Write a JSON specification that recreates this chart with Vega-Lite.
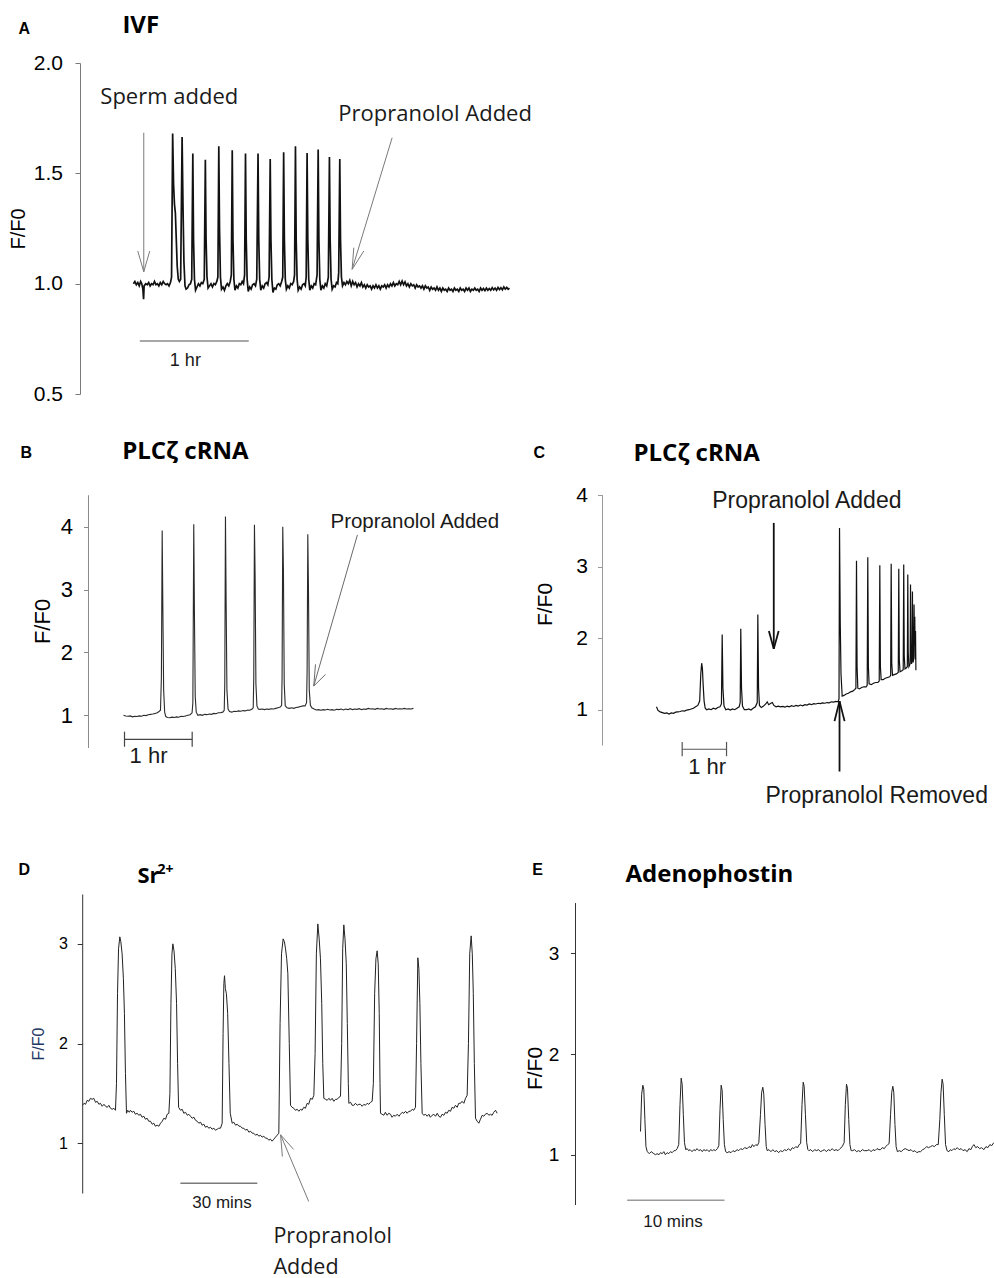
{
"$schema": "https://vega.github.io/schema/vega-lite/v6.json",
"autosize": {"type": "pad"},
"padding": {"left": 8, "top": 13, "right": 0, "bottom": 0},
"background": "white",
"config": {
  "view": {"stroke": null},
  "axis": {"labelFont": "Liberation Sans", "titleFont": "Liberation Sans", "titleFontWeight": "normal", "labelColor": "#000", "titleColor": "#000", "tickSize": 5, "grid": false, "labelOverlap": false, "domainWidth": 1, "tickWidth": 1}
},
"datasets": {
  "a": [
    {"t":0,"v":1.0},{"t":0.8,"v":1.01},{"t":1.6,"v":0.995},{"t":2.4,"v":1.005},{"t":3.2,"v":0.99},{"t":4.0,"v":1.01},{"t":4.6,"v":1.0},{"t":5.2,"v":0.975},{"t":5.6,"v":0.93},{"t":5.9,"v":0.99},
    {"t":6.8,"v":1.0},{"t":7.6,"v":0.995},{"t":8.4,"v":1.005},{"t":9.2,"v":0.99},{"t":10.0,"v":1.0},{"t":10.8,"v":0.995},{"t":11.6,"v":1.01},{"t":12.4,"v":0.995},{"t":13.2,"v":1.0},{"t":14.0,"v":0.99},
    {"t":14.8,"v":1.005},{"t":15.6,"v":0.995},{"t":16.4,"v":1.01},{"t":17.2,"v":1.0},{"t":18.0,"v":0.995},{"t":18.8,"v":1.0},{"t":19.6,"v":0.99},{"t":20.4,"v":1.005},{"t":21.0,"v":1.03},{"t":21.6,"v":1.68},
    {"t":22.1,"v":1.45},{"t":22.6,"v":1.36},{"t":23.1,"v":1.32},{"t":23.6,"v":1.2},{"t":24.1,"v":1.08},{"t":24.7,"v":1.02},{"t":25.3,"v":1.01},{"t":26.0,"v":1.02},{"t":26.8,"v":1.665},{"t":27.3,"v":1.35},
    {"t":27.8,"v":1.1},{"t":28.4,"v":0.99},{"t":29.0,"v":0.975},{"t":29.8,"v":0.98},{"t":30.6,"v":0.995},{"t":31.4,"v":1.0},{"t":32.1,"v":1.02},{"t":32.7,"v":1.59},{"t":33.1,"v":1.2},{"t":33.6,"v":1.02},
    {"t":34.2,"v":0.97},{"t":35.0,"v":0.985},{"t":35.8,"v":1.0},{"t":36.6,"v":0.99},{"t":37.4,"v":1.005},{"t":38.2,"v":1.0},{"t":39.0,"v":1.02},{"t":39.6,"v":1.562},{"t":40.0,"v":1.2},{"t":40.5,"v":1.03},
    {"t":41.1,"v":0.98},{"t":41.9,"v":0.99},{"t":42.7,"v":1.0},{"t":43.5,"v":0.985},{"t":44.3,"v":1.0},{"t":45.1,"v":0.995},{"t":45.9,"v":1.01},{"t":46.5,"v":1.03},{"t":47.0,"v":1.623},{"t":47.4,"v":1.25},
    {"t":47.9,"v":1.03},{"t":48.5,"v":0.975},{"t":49.3,"v":0.985},{"t":50.1,"v":0.97},{"t":50.9,"v":0.99},{"t":51.7,"v":1.0},{"t":52.5,"v":0.99},{"t":53.3,"v":1.01},{"t":53.9,"v":1.04},{"t":54.4,"v":1.605},
    {"t":54.8,"v":1.2},{"t":55.3,"v":1.02},{"t":55.9,"v":0.97},{"t":56.7,"v":0.99},{"t":57.5,"v":0.98},{"t":58.3,"v":1.0},{"t":59.1,"v":0.995},{"t":59.9,"v":1.01},{"t":60.6,"v":1.0},{"t":61.2,"v":1.04},
    {"t":61.7,"v":1.59},{"t":62.1,"v":1.2},{"t":62.6,"v":1.02},{"t":63.2,"v":0.965},{"t":64.0,"v":0.985},{"t":64.8,"v":0.975},{"t":65.6,"v":0.995},{"t":66.4,"v":1.0},{"t":67.2,"v":0.99},{"t":67.9,"v":1.02},
    {"t":68.6,"v":1.59},{"t":69.0,"v":1.2},{"t":69.5,"v":1.02},{"t":70.1,"v":0.97},{"t":70.9,"v":0.99},{"t":71.7,"v":0.98},{"t":72.5,"v":1.0},{"t":73.3,"v":1.005},{"t":74.0,"v":0.995},{"t":74.7,"v":1.03},
    {"t":75.3,"v":1.565},{"t":75.7,"v":1.2},{"t":76.2,"v":1.02},{"t":76.8,"v":0.96},{"t":77.6,"v":0.98},{"t":78.4,"v":0.975},{"t":79.2,"v":0.995},{"t":80.0,"v":1.0},{"t":80.8,"v":0.99},{"t":81.6,"v":1.01},
    {"t":82.2,"v":1.03},{"t":82.7,"v":1.595},{"t":83.1,"v":1.2},{"t":83.6,"v":1.02},{"t":84.2,"v":0.975},{"t":85.0,"v":0.99},{"t":85.8,"v":0.98},{"t":86.6,"v":1.0},{"t":87.4,"v":0.995},{"t":88.2,"v":1.01},
    {"t":88.7,"v":1.04},{"t":89.2,"v":1.623},{"t":89.6,"v":1.2},{"t":90.1,"v":1.02},{"t":90.7,"v":0.97},{"t":91.5,"v":0.985},{"t":92.3,"v":0.975},{"t":93.1,"v":0.995},{"t":93.9,"v":1.0},{"t":94.6,"v":0.99},
    {"t":95.1,"v":1.03},{"t":95.6,"v":1.592},{"t":96.0,"v":1.2},{"t":96.5,"v":1.02},{"t":97.1,"v":0.97},{"t":97.9,"v":0.99},{"t":98.7,"v":0.98},{"t":99.5,"v":1.0},{"t":100.3,"v":0.995},{"t":101.1,"v":1.04},
    {"t":101.7,"v":1.608},{"t":102.1,"v":1.2},{"t":102.6,"v":1.02},{"t":103.2,"v":0.97},{"t":104.0,"v":0.99},{"t":104.8,"v":0.98},{"t":105.6,"v":1.0},{"t":106.4,"v":0.99},{"t":107.3,"v":1.03},{"t":107.9,"v":1.574},
    {"t":108.3,"v":1.2},{"t":108.8,"v":1.02},{"t":109.4,"v":0.975},{"t":110.2,"v":0.99},{"t":111.0,"v":0.985},{"t":111.8,"v":1.005},{"t":112.5,"v":1.0},{"t":113.0,"v":1.05},{"t":113.6,"v":1.565},{"t":114.0,"v":1.2},
    {"t":114.5,"v":1.03},{"t":115.1,"v":0.99},{"t":115.9,"v":1.005},{"t":116.7,"v":0.995},{"t":117.5,"v":1.01},{"t":118.3,"v":1.0},{"t":119.1,"v":1.015},{"t":119.9,"v":0.99},{"t":120.7,"v":1.01},{"t":121.5,"v":0.995},
    {"t":122.3,"v":1.005},{"t":123.1,"v":0.985},{"t":123.9,"v":1.0},{"t":124.7,"v":0.99},{"t":125.5,"v":1.005},{"t":126.3,"v":0.985},{"t":127.1,"v":0.995},{"t":127.9,"v":0.98},{"t":128.7,"v":0.995},{"t":129.5,"v":0.985},
    {"t":130.3,"v":0.99},{"t":131.1,"v":0.975},{"t":131.9,"v":0.99},{"t":132.7,"v":0.98},{"t":133.5,"v":0.995},{"t":134.3,"v":0.98},{"t":135.1,"v":0.99},{"t":135.9,"v":0.975},{"t":136.7,"v":0.99},{"t":137.5,"v":0.985},
    {"t":138.3,"v":0.995},{"t":139.1,"v":0.98},{"t":139.9,"v":0.995},{"t":140.7,"v":0.985},{"t":141.5,"v":1.0},{"t":142.3,"v":0.99},{"t":143.1,"v":1.005},{"t":143.9,"v":0.99},{"t":144.7,"v":1.0},{"t":145.5,"v":0.995},
    {"t":146.3,"v":1.01},{"t":147.1,"v":0.995},{"t":147.9,"v":1.012},{"t":148.7,"v":0.995},{"t":149.5,"v":1.008},{"t":150.3,"v":0.99},{"t":151.1,"v":1.0},{"t":151.9,"v":0.985},{"t":152.7,"v":1.0},{"t":153.5,"v":0.99},
    {"t":154.3,"v":0.995},{"t":155.1,"v":0.98},{"t":155.9,"v":0.995},{"t":156.7,"v":0.985},{"t":157.5,"v":0.99},{"t":158.3,"v":0.98},{"t":159.1,"v":0.99},{"t":159.9,"v":0.975},{"t":160.7,"v":0.99},{"t":161.5,"v":0.98},
    {"t":162.3,"v":0.985},{"t":163.1,"v":0.97},{"t":163.9,"v":0.985},{"t":164.7,"v":0.975},{"t":165.5,"v":0.98},{"t":166.3,"v":0.97},{"t":167.1,"v":0.985},{"t":167.9,"v":0.97},{"t":168.7,"v":0.98},{"t":169.5,"v":0.965},
    {"t":170.3,"v":0.98},{"t":171.1,"v":0.97},{"t":171.9,"v":0.975},{"t":172.7,"v":0.965},{"t":173.5,"v":0.98},{"t":174.3,"v":0.97},{"t":175.1,"v":0.975},{"t":175.9,"v":0.965},{"t":176.7,"v":0.98},{"t":177.5,"v":0.97},
    {"t":178.3,"v":0.975},{"t":179.1,"v":0.965},{"t":179.9,"v":0.98},{"t":180.7,"v":0.97},{"t":181.5,"v":0.975},{"t":182.3,"v":0.965},{"t":183.1,"v":0.98},{"t":183.9,"v":0.97},{"t":184.7,"v":0.98},{"t":185.5,"v":0.965},
    {"t":186.3,"v":0.975},{"t":187.1,"v":0.97},{"t":187.9,"v":0.98},{"t":188.7,"v":0.97},{"t":189.5,"v":0.975},{"t":190.3,"v":0.965},{"t":191.1,"v":0.98},{"t":191.9,"v":0.97},{"t":192.7,"v":0.978},{"t":193.5,"v":0.968},
    {"t":194.3,"v":0.98},{"t":195.1,"v":0.97},{"t":195.9,"v":0.978},{"t":196.7,"v":0.97},{"t":197.5,"v":0.982},{"t":198.3,"v":0.972},{"t":199.1,"v":0.98},{"t":199.9,"v":0.97},{"t":200.7,"v":0.983},{"t":201.5,"v":0.973},
    {"t":202.3,"v":0.982},{"t":203.1,"v":0.972},{"t":203.9,"v":0.985},{"t":204.7,"v":0.975},{"t":205.5,"v":0.983},{"t":206.3,"v":0.975},{"t":207.0,"v":0.98}
  ],
  "b": [
    {"t":0,"v":1.0},{"t":2,"v":0.99},{"t":4,"v":0.985},{"t":6,"v":0.99},{"t":8,"v":0.975},{"t":10,"v":0.985},{"t":12,"v":0.98},{"t":14,"v":0.99},{"t":16,"v":0.985},{"t":18,"v":1.0},
    {"t":20,"v":0.995},{"t":22,"v":1.01},{"t":24,"v":1.015},{"t":26,"v":1.02},{"t":28,"v":1.03},{"t":30,"v":1.04},{"t":31.5,"v":1.06},{"t":32.8,"v":1.08},{"t":33.6,"v":1.6},{"t":34.3,"v":3.94},
    {"t":34.9,"v":2.7},{"t":35.6,"v":1.4},{"t":36.5,"v":1.05},{"t":37.5,"v":0.98},{"t":39,"v":0.965},{"t":41,"v":0.96},{"t":43,"v":0.97},{"t":45,"v":0.965},{"t":47,"v":0.975},{"t":49,"v":0.97},
    {"t":51,"v":0.985},{"t":53,"v":0.98},{"t":55,"v":0.99},{"t":57,"v":1.0},{"t":59,"v":1.01},{"t":60.8,"v":1.04},{"t":61.5,"v":1.2},{"t":62.3,"v":4.04},{"t":62.9,"v":2.6},{"t":63.6,"v":1.3},
    {"t":64.5,"v":1.05},{"t":66,"v":1.0},{"t":68,"v":1.01},{"t":70,"v":1.0},{"t":72,"v":1.015},{"t":74,"v":1.01},{"t":76,"v":1.02},{"t":78,"v":1.015},{"t":80,"v":1.03},{"t":82,"v":1.025},
    {"t":84,"v":1.04},{"t":86,"v":1.04},{"t":88,"v":1.05},{"t":89.3,"v":1.08},{"t":89.8,"v":1.5},{"t":90.4,"v":4.16},{"t":91.0,"v":2.8},{"t":91.7,"v":1.4},{"t":92.7,"v":1.1},{"t":94,"v":1.06},
    {"t":96,"v":1.05},{"t":98,"v":1.065},{"t":100,"v":1.06},{"t":102,"v":1.07},{"t":104,"v":1.065},{"t":106,"v":1.075},{"t":108,"v":1.07},{"t":110,"v":1.085},{"t":112,"v":1.08},{"t":114,"v":1.1},
    {"t":115.0,"v":1.12},{"t":115.5,"v":1.6},{"t":116.1,"v":4.03},{"t":116.7,"v":3.2},{"t":117.4,"v":1.5},{"t":118.3,"v":1.15},{"t":119.5,"v":1.1},{"t":121,"v":1.095},{"t":123,"v":1.1},{"t":125,"v":1.09},
    {"t":127,"v":1.1},{"t":129,"v":1.095},{"t":131,"v":1.105},{"t":133,"v":1.1},{"t":135,"v":1.11},{"t":137,"v":1.12},{"t":139,"v":1.13},{"t":140.2,"v":1.16},{"t":140.6,"v":1.6},{"t":141.2,"v":4.0},
    {"t":141.8,"v":3.3},{"t":142.5,"v":1.5},{"t":143.4,"v":1.15},{"t":145,"v":1.12},{"t":147,"v":1.11},{"t":149,"v":1.12},{"t":151,"v":1.11},{"t":153,"v":1.125},{"t":155,"v":1.13},{"t":157,"v":1.14},
    {"t":159,"v":1.15},{"t":161,"v":1.15},{"t":162.3,"v":1.2},{"t":162.8,"v":1.7},{"t":163.4,"v":3.88},{"t":164.0,"v":3.0},{"t":164.7,"v":1.4},{"t":165.7,"v":1.16},{"t":167,"v":1.12},{"t":169,"v":1.1},
    {"t":171,"v":1.085},{"t":173,"v":1.09},{"t":175,"v":1.08},{"t":177,"v":1.09},{"t":179,"v":1.085},{"t":181,"v":1.095},{"t":183,"v":1.085},{"t":185,"v":1.09},{"t":187,"v":1.08},{"t":189,"v":1.095},
    {"t":191,"v":1.09},{"t":193,"v":1.1},{"t":195,"v":1.085},{"t":197,"v":1.1},{"t":199,"v":1.09},{"t":201,"v":1.105},{"t":203,"v":1.09},{"t":205,"v":1.1},{"t":207,"v":1.095},{"t":209,"v":1.105},
    {"t":211,"v":1.09},{"t":213,"v":1.1},{"t":215,"v":1.095},{"t":217,"v":1.11},{"t":219,"v":1.1},{"t":221,"v":1.105},{"t":223,"v":1.095},{"t":225,"v":1.11},{"t":227,"v":1.1},{"t":229,"v":1.105},
    {"t":231,"v":1.095},{"t":233,"v":1.11},{"t":235,"v":1.1},{"t":237,"v":1.105},{"t":239,"v":1.095},{"t":241,"v":1.11},{"t":243,"v":1.1},{"t":245,"v":1.105},{"t":247,"v":1.1},{"t":249,"v":1.11},
    {"t":251,"v":1.1},{"t":253,"v":1.105},{"t":255,"v":1.1},{"t":257,"v":1.11}
  ],
  "c": [
    {"t":0,"v":1.04},{"t":2,"v":0.99},{"t":5,"v":0.97},{"t":8,"v":0.96},{"t":11,"v":0.95},{"t":14,"v":0.955},{"t":17,"v":0.94},{"t":20,"v":0.955},{"t":23,"v":0.95},{"t":26,"v":0.965},
    {"t":29,"v":0.97},{"t":32,"v":0.975},{"t":35,"v":0.985},{"t":38,"v":0.98},{"t":41,"v":0.995},{"t":44,"v":1.0},{"t":47,"v":1.01},{"t":50,"v":1.02},{"t":53,"v":1.04},{"t":56,"v":1.06},
    {"t":58.5,"v":1.12},{"t":60,"v":1.5},{"t":61.2,"v":1.65},{"t":62.2,"v":1.58},{"t":63.2,"v":1.35},{"t":64.5,"v":1.12},{"t":66,"v":1.02},{"t":68,"v":1.0},{"t":71,"v":1.01},{"t":74,"v":1.0},
    {"t":77,"v":1.02},{"t":80,"v":1.01},{"t":83,"v":1.03},{"t":86,"v":1.04},{"t":88,"v":1.08},{"t":89,"v":2.05},{"t":90,"v":1.3},{"t":91.5,"v":1.05},{"t":94,"v":1.0},{"t":97,"v":1.01},
    {"t":100,"v":0.995},{"t":103,"v":1.01},{"t":106,"v":1.0},{"t":109,"v":1.02},{"t":112,"v":1.04},{"t":113.4,"v":1.1},{"t":114.2,"v":2.13},{"t":115.2,"v":1.3},{"t":116.5,"v":1.05},{"t":119,"v":1.0},
    {"t":122,"v":1.0},{"t":125,"v":1.01},{"t":128,"v":0.995},{"t":131,"v":1.02},{"t":134,"v":1.04},{"t":136.5,"v":1.1},{"t":137.3,"v":2.33},{"t":138.3,"v":1.3},{"t":139.5,"v":1.06},{"t":142,"v":1.03},
    {"t":145,"v":1.05},{"t":148,"v":1.08},{"t":150,"v":1.11},{"t":152,"v":1.07},{"t":155,"v":1.09},{"t":157,"v":1.1},{"t":159,"v":1.06},{"t":162,"v":1.04},{"t":165,"v":1.05},{"t":168,"v":1.04},
    {"t":171,"v":1.045},{"t":174,"v":1.035},{"t":177,"v":1.05},{"t":180,"v":1.04},{"t":183,"v":1.055},{"t":186,"v":1.045},{"t":189,"v":1.06},{"t":192,"v":1.05},{"t":195,"v":1.065},{"t":198,"v":1.055},
    {"t":201,"v":1.07},{"t":204,"v":1.065},{"t":207,"v":1.08},{"t":210,"v":1.07},{"t":213,"v":1.085},{"t":216,"v":1.08},{"t":219,"v":1.09},{"t":222,"v":1.085},{"t":225,"v":1.095},{"t":228,"v":1.09},
    {"t":231,"v":1.1},{"t":234,"v":1.095},{"t":237,"v":1.11},{"t":240,"v":1.105},{"t":243,"v":1.115},{"t":246,"v":1.11},{"t":247.3,"v":1.15},{"t":248,"v":3.54},{"t":249,"v":2.2},{"t":250,"v":1.5},
    {"t":251.6,"v":1.19},{"t":254,"v":1.2},{"t":257,"v":1.22},{"t":260,"v":1.23},{"t":263,"v":1.25},{"t":266,"v":1.26},{"t":268.5,"v":1.28},{"t":270.2,"v":1.3},{"t":271,"v":3.08},{"t":271.8,"v":1.6},
    {"t":272.8,"v":1.3},{"t":275,"v":1.29},{"t":278,"v":1.31},{"t":281,"v":1.32},{"t":284,"v":1.32},{"t":285.5,"v":1.34},{"t":286.3,"v":3.13},{"t":287.1,"v":1.6},{"t":288.1,"v":1.36},{"t":291,"v":1.35},
    {"t":294,"v":1.37},{"t":297,"v":1.38},{"t":300,"v":1.38},{"t":301.8,"v":1.4},{"t":302.6,"v":3.02},{"t":303.4,"v":1.6},{"t":304.4,"v":1.42},{"t":307,"v":1.42},{"t":310,"v":1.44},{"t":313,"v":1.45},
    {"t":316,"v":1.46},{"t":317.3,"v":1.48},{"t":318,"v":3.04},{"t":318.8,"v":1.65},{"t":319.8,"v":1.48},{"t":322,"v":1.49},{"t":325,"v":1.5},{"t":327.6,"v":1.52},{"t":328.3,"v":2.97},{"t":329,"v":1.7},
    {"t":330,"v":1.53},{"t":332,"v":1.54},{"t":334.3,"v":1.56},{"t":335,"v":3.03},{"t":335.7,"v":1.75},{"t":336.7,"v":1.57},{"t":338,"v":1.58},{"t":339.9,"v":1.6},{"t":340.5,"v":2.89},{"t":341.1,"v":1.8},
    {"t":342,"v":1.6},{"t":343,"v":1.62},{"t":343.7,"v":1.65},{"t":344.2,"v":2.75},{"t":344.8,"v":1.85},{"t":345.6,"v":1.64},{"t":346.3,"v":1.68},{"t":346.8,"v":2.65},{"t":347.3,"v":1.9},{"t":347.9,"v":1.66},
    {"t":348.5,"v":1.75},{"t":349.0,"v":2.47},{"t":349.5,"v":1.9},{"t":350.0,"v":2.3},{"t":350.5,"v":1.7},{"t":351.0,"v":2.1},{"t":351.5,"v":1.55}
  ],
  "d": [
    {"t":0,"v":1.38},{"t":0.6,"v":1.4},{"t":1.2,"v":1.39},{"t":1.83,"v":1.43},{"t":2.5,"v":1.42},{"t":3.1,"v":1.45},{"t":3.78,"v":1.44},{"t":4.4,"v":1.45},{"t":5.1,"v":1.41},{"t":5.74,"v":1.42},
    {"t":6.4,"v":1.39},{"t":7.04,"v":1.4},{"t":7.7,"v":1.37},{"t":8.4,"v":1.39},{"t":9.0,"v":1.37},{"t":9.7,"v":1.36},{"t":10.3,"v":1.38},{"t":10.95,"v":1.35},{"t":11.6,"v":1.34},{"t":12.26,"v":1.35},
    {"t":12.9,"v":1.33},{"t":13.3,"v":1.6},{"t":13.7,"v":2.5},{"t":14.1,"v":2.95},{"t":14.6,"v":3.07},{"t":15.0,"v":3.02},{"t":15.5,"v":2.9},{"t":16.0,"v":2.65},{"t":16.4,"v":2.3},{"t":16.8,"v":1.7},
    {"t":17.21,"v":1.3},{"t":17.7,"v":1.33},{"t":18.3,"v":1.31},{"t":18.78,"v":1.33},{"t":19.4,"v":1.31},{"t":20.08,"v":1.32},{"t":20.7,"v":1.29},{"t":21.4,"v":1.3},{"t":22.0,"v":1.28},{"t":22.69,"v":1.29},
    {"t":23.3,"v":1.26},{"t":24.0,"v":1.27},{"t":24.6,"v":1.24},{"t":25.3,"v":1.25},{"t":25.9,"v":1.22},{"t":26.6,"v":1.22},{"t":27.26,"v":1.19},{"t":27.9,"v":1.2},{"t":28.5,"v":1.17},{"t":29.21,"v":1.18},
    {"t":29.9,"v":1.17},{"t":30.52,"v":1.2},{"t":31.2,"v":1.22},{"t":31.82,"v":1.25},{"t":32.5,"v":1.24},{"t":33.12,"v":1.29},{"t":33.78,"v":1.3},{"t":34.2,"v":1.5},{"t":34.6,"v":2.4},{"t":35.0,"v":2.9},
    {"t":35.35,"v":3.0},{"t":35.8,"v":2.93},{"t":36.3,"v":2.75},{"t":36.8,"v":2.4},{"t":37.2,"v":1.8},{"t":37.6,"v":1.36},{"t":38.34,"v":1.33},{"t":39.0,"v":1.34},{"t":39.65,"v":1.3},{"t":40.3,"v":1.31},
    {"t":41.0,"v":1.28},{"t":41.6,"v":1.29},{"t":42.25,"v":1.27},{"t":42.9,"v":1.25},{"t":43.6,"v":1.26},{"t":44.2,"v":1.23},{"t":44.86,"v":1.22},{"t":45.5,"v":1.2},{"t":46.2,"v":1.21},{"t":46.8,"v":1.18},
    {"t":47.47,"v":1.19},{"t":48.1,"v":1.16},{"t":48.8,"v":1.17},{"t":49.4,"v":1.15},{"t":50.08,"v":1.16},{"t":50.7,"v":1.14},{"t":51.4,"v":1.15},{"t":52.0,"v":1.13},{"t":52.69,"v":1.14},{"t":53.3,"v":1.15},
    {"t":53.99,"v":1.15},{"t":54.64,"v":1.2},{"t":55.0,"v":2.1},{"t":55.3,"v":2.6},{"t":55.56,"v":2.68},{"t":55.9,"v":2.55},{"t":56.3,"v":2.5},{"t":56.8,"v":2.3},{"t":57.3,"v":1.8},{"t":57.8,"v":1.3},
    {"t":58.56,"v":1.2},{"t":59.2,"v":1.21},{"t":59.9,"v":1.18},{"t":60.51,"v":1.19},{"t":61.2,"v":1.17},{"t":61.8,"v":1.17},{"t":62.5,"v":1.15},{"t":63.12,"v":1.15},{"t":63.8,"v":1.13},{"t":64.4,"v":1.14},
    {"t":65.1,"v":1.11},{"t":65.73,"v":1.12},{"t":66.4,"v":1.1},{"t":67.0,"v":1.1},{"t":67.7,"v":1.08},{"t":68.34,"v":1.09},{"t":69.0,"v":1.07},{"t":69.6,"v":1.08},{"t":70.3,"v":1.06},{"t":70.94,"v":1.07},
    {"t":71.6,"v":1.05},{"t":72.2,"v":1.05},{"t":72.9,"v":1.03},{"t":73.55,"v":1.04},{"t":74.2,"v":1.02},{"t":74.86,"v":1.04},{"t":75.5,"v":1.06},{"t":76.16,"v":1.08},{"t":76.81,"v":1.1},{"t":77.3,"v":2.2},
    {"t":77.86,"v":2.9},{"t":78.51,"v":3.05},{"t":79.0,"v":3.02},{"t":79.43,"v":2.95},{"t":79.9,"v":2.85},{"t":80.34,"v":2.7},{"t":80.9,"v":2.0},{"t":81.38,"v":1.38},{"t":82.0,"v":1.36},{"t":82.68,"v":1.35},
    {"t":83.3,"v":1.33},{"t":84.0,"v":1.34},{"t":84.64,"v":1.32},{"t":85.3,"v":1.34},{"t":85.9,"v":1.33},{"t":86.59,"v":1.36},{"t":87.2,"v":1.35},{"t":87.9,"v":1.4},{"t":88.5,"v":1.39},{"t":89.2,"v":1.45},
    {"t":89.9,"v":1.44},{"t":90.51,"v":1.48},{"t":91.0,"v":1.9},{"t":91.5,"v":2.9},{"t":92.07,"v":3.2},{"t":92.6,"v":3.05},{"t":93.1,"v":2.85},{"t":93.6,"v":2.4},{"t":94.0,"v":1.8},{"t":94.42,"v":1.45},
    {"t":95.1,"v":1.44},{"t":95.72,"v":1.43},{"t":96.4,"v":1.45},{"t":97.0,"v":1.43},{"t":97.68,"v":1.45},{"t":98.3,"v":1.42},{"t":99.0,"v":1.44},{"t":99.63,"v":1.44},{"t":100.3,"v":1.46},{"t":100.94,"v":1.47},
    {"t":101.4,"v":2.0},{"t":101.8,"v":2.95},{"t":102.24,"v":3.19},{"t":102.7,"v":3.05},{"t":103.2,"v":2.8},{"t":103.6,"v":2.2},{"t":104.0,"v":1.6},{"t":104.2,"v":1.4},{"t":104.9,"v":1.41},{"t":105.5,"v":1.38},
    {"t":106.16,"v":1.38},{"t":106.8,"v":1.4},{"t":107.5,"v":1.38},{"t":108.1,"v":1.39},{"t":108.76,"v":1.39},{"t":109.4,"v":1.37},{"t":110.1,"v":1.39},{"t":110.7,"v":1.38},{"t":111.37,"v":1.4},{"t":112.0,"v":1.39},
    {"t":112.7,"v":1.41},{"t":113.33,"v":1.42},{"t":113.8,"v":1.6},{"t":114.3,"v":2.5},{"t":114.8,"v":2.85},{"t":115.28,"v":2.93},{"t":115.7,"v":2.8},{"t":116.1,"v":2.3},{"t":116.4,"v":1.6},{"t":116.59,"v":1.3},
    {"t":117.2,"v":1.29},{"t":117.89,"v":1.28},{"t":118.5,"v":1.31},{"t":119.2,"v":1.28},{"t":119.8,"v":1.3},{"t":120.5,"v":1.29},{"t":121.1,"v":1.26},{"t":121.8,"v":1.28},{"t":122.4,"v":1.27},{"t":123.11,"v":1.29},
    {"t":123.8,"v":1.27},{"t":124.4,"v":1.29},{"t":125.1,"v":1.31},{"t":125.72,"v":1.3},{"t":126.4,"v":1.32},{"t":127.0,"v":1.3},{"t":127.7,"v":1.32},{"t":128.33,"v":1.32},{"t":129.0,"v":1.34},{"t":129.6,"v":1.33},
    {"t":130.28,"v":1.36},{"t":130.7,"v":2.0},{"t":131.2,"v":2.86},{"t":131.6,"v":2.75},{"t":132.0,"v":2.4},{"t":132.4,"v":1.8},{"t":132.89,"v":1.3},{"t":133.5,"v":1.28},{"t":134.2,"v":1.29},{"t":134.85,"v":1.27},
    {"t":135.5,"v":1.29},{"t":136.1,"v":1.26},{"t":136.8,"v":1.28},{"t":137.46,"v":1.29},{"t":138.1,"v":1.27},{"t":138.8,"v":1.3},{"t":139.4,"v":1.27},{"t":140.06,"v":1.26},{"t":140.7,"v":1.29},{"t":141.4,"v":1.28},
    {"t":142.0,"v":1.31},{"t":142.67,"v":1.3},{"t":143.3,"v":1.33},{"t":144.0,"v":1.32},{"t":144.6,"v":1.36},{"t":145.28,"v":1.35},{"t":145.9,"v":1.38},{"t":146.6,"v":1.36},{"t":147.2,"v":1.4},{"t":147.89,"v":1.4},
    {"t":148.5,"v":1.42},{"t":149.2,"v":1.4},{"t":149.84,"v":1.45},{"t":150.49,"v":1.48},{"t":151.0,"v":2.0},{"t":151.5,"v":2.9},{"t":152.06,"v":3.08},{"t":152.5,"v":2.9},{"t":152.9,"v":2.5},{"t":153.3,"v":1.8},
    {"t":153.76,"v":1.25},{"t":154.4,"v":1.22},{"t":155.06,"v":1.2},{"t":155.7,"v":1.24},{"t":156.36,"v":1.28},{"t":157.0,"v":1.27},{"t":157.6,"v":1.29},{"t":158.32,"v":1.3},{"t":159.0,"v":1.28},{"t":159.6,"v":1.29},
    {"t":160.27,"v":1.28},{"t":160.9,"v":1.31},{"t":161.58,"v":1.33},{"t":162.23,"v":1.3}
  ],
  "e": [
    {"t":0,"v":1.23},{"t":0.12,"v":1.6},{"t":0.24,"v":1.69},{"t":0.34,"v":1.65},{"t":0.45,"v":1.35},{"t":0.56,"v":1.08},{"t":0.7,"v":1.03},{"t":0.9,"v":1.01},{"t":1.1,"v":1.03},{"t":1.37,"v":1.01},
    {"t":1.55,"v":1.0},{"t":1.71,"v":1.01},{"t":1.9,"v":1.0},{"t":2.05,"v":1.02},{"t":2.23,"v":1.01},{"t":2.4,"v":1.03},{"t":2.55,"v":1.0},{"t":2.74,"v":1.02},{"t":2.9,"v":1.01},{"t":3.08,"v":1.03},
    {"t":3.25,"v":1.02},{"t":3.45,"v":1.04},{"t":3.6,"v":1.04},{"t":3.77,"v":1.06},{"t":3.93,"v":1.1},{"t":4.06,"v":1.5},{"t":4.18,"v":1.76},{"t":4.28,"v":1.7},{"t":4.4,"v":1.4},{"t":4.52,"v":1.12},
    {"t":4.65,"v":1.05},{"t":4.8,"v":1.06},{"t":4.95,"v":1.04},{"t":5.1,"v":1.05},{"t":5.3,"v":1.03},{"t":5.48,"v":1.05},{"t":5.65,"v":1.04},{"t":5.8,"v":1.06},{"t":6.0,"v":1.04},{"t":6.17,"v":1.05},
    {"t":6.35,"v":1.03},{"t":6.5,"v":1.05},{"t":6.7,"v":1.04},{"t":6.85,"v":1.05},{"t":7.05,"v":1.03},{"t":7.2,"v":1.05},{"t":7.4,"v":1.04},{"t":7.54,"v":1.05},{"t":7.7,"v":1.04},{"t":7.9,"v":1.06},
    {"t":8.05,"v":1.09},{"t":8.17,"v":1.45},{"t":8.29,"v":1.69},{"t":8.39,"v":1.64},{"t":8.5,"v":1.35},{"t":8.62,"v":1.1},{"t":8.75,"v":1.03},{"t":8.91,"v":1.02},{"t":9.1,"v":1.03},{"t":9.3,"v":1.02},
    {"t":9.5,"v":1.04},{"t":9.7,"v":1.03},{"t":9.93,"v":1.05},{"t":10.1,"v":1.04},{"t":10.3,"v":1.06},{"t":10.5,"v":1.05},{"t":10.7,"v":1.07},{"t":10.96,"v":1.06},{"t":11.15,"v":1.08},{"t":11.35,"v":1.07},
    {"t":11.5,"v":1.1},{"t":11.65,"v":1.08},{"t":11.85,"v":1.1},{"t":12.0,"v":1.09},{"t":12.16,"v":1.12},{"t":12.33,"v":1.4},{"t":12.45,"v":1.62},{"t":12.57,"v":1.67},{"t":12.67,"v":1.6},{"t":12.8,"v":1.3},
    {"t":12.92,"v":1.08},{"t":13.02,"v":1.04},{"t":13.2,"v":1.05},{"t":13.4,"v":1.03},{"t":13.6,"v":1.05},{"t":13.8,"v":1.03},{"t":14.0,"v":1.04},{"t":14.2,"v":1.02},{"t":14.39,"v":1.04},{"t":14.6,"v":1.03},
    {"t":14.8,"v":1.05},{"t":15.0,"v":1.04},{"t":15.2,"v":1.06},{"t":15.4,"v":1.04},{"t":15.6,"v":1.07},{"t":15.76,"v":1.06},{"t":15.95,"v":1.08},{"t":16.15,"v":1.07},{"t":16.3,"v":1.1},{"t":16.46,"v":1.11},
    {"t":16.6,"v":1.5},{"t":16.72,"v":1.72},{"t":16.82,"v":1.68},{"t":16.95,"v":1.4},{"t":17.08,"v":1.12},{"t":17.2,"v":1.05},{"t":17.3,"v":1.04},{"t":17.5,"v":1.05},{"t":17.7,"v":1.03},{"t":17.9,"v":1.05},
    {"t":18.1,"v":1.04},{"t":18.3,"v":1.05},{"t":18.5,"v":1.03},{"t":18.7,"v":1.04},{"t":18.9,"v":1.05},{"t":19.1,"v":1.03},{"t":19.3,"v":1.05},{"t":19.5,"v":1.04},{"t":19.7,"v":1.06},{"t":19.9,"v":1.04},
    {"t":20.1,"v":1.05},{"t":20.3,"v":1.04},{"t":20.5,"v":1.06},{"t":20.73,"v":1.08},{"t":20.93,"v":1.12},{"t":21.05,"v":1.5},{"t":21.17,"v":1.7},{"t":21.27,"v":1.66},{"t":21.4,"v":1.35},{"t":21.52,"v":1.1},
    {"t":21.65,"v":1.04},{"t":21.8,"v":1.04},{"t":22.0,"v":1.05},{"t":22.2,"v":1.03},{"t":22.4,"v":1.04},{"t":22.6,"v":1.03},{"t":22.8,"v":1.05},{"t":23.0,"v":1.04},{"t":23.3,"v":1.04},{"t":23.5,"v":1.05},
    {"t":23.7,"v":1.03},{"t":23.9,"v":1.05},{"t":24.1,"v":1.04},{"t":24.3,"v":1.06},{"t":24.5,"v":1.05},{"t":24.67,"v":1.05},{"t":24.85,"v":1.07},{"t":25.05,"v":1.06},{"t":25.2,"v":1.08},{"t":25.4,"v":1.1},
    {"t":25.55,"v":1.11},{"t":25.7,"v":1.4},{"t":25.82,"v":1.62},{"t":25.93,"v":1.68},{"t":26.03,"v":1.62},{"t":26.15,"v":1.3},{"t":26.27,"v":1.08},{"t":26.4,"v":1.03},{"t":26.6,"v":1.04},{"t":26.8,"v":1.03},
    {"t":27.0,"v":1.05},{"t":27.2,"v":1.06},{"t":27.41,"v":1.05},{"t":27.6,"v":1.04},{"t":27.8,"v":1.05},{"t":28.0,"v":1.03},{"t":28.2,"v":1.04},{"t":28.4,"v":1.02},{"t":28.6,"v":1.03},{"t":28.78,"v":1.03},
    {"t":29.0,"v":1.05},{"t":29.2,"v":1.06},{"t":29.4,"v":1.08},{"t":29.6,"v":1.07},{"t":29.8,"v":1.08},{"t":30.0,"v":1.09},{"t":30.2,"v":1.08},{"t":30.4,"v":1.1},{"t":30.6,"v":1.1},{"t":30.76,"v":1.35},
    {"t":30.88,"v":1.62},{"t":31.0,"v":1.75},{"t":31.1,"v":1.7},{"t":31.22,"v":1.4},{"t":31.35,"v":1.1},{"t":31.5,"v":1.04},{"t":31.69,"v":1.03},{"t":31.85,"v":1.05},{"t":32.0,"v":1.04},{"t":32.2,"v":1.06},
    {"t":32.35,"v":1.05},{"t":32.55,"v":1.07},{"t":32.75,"v":1.05},{"t":32.95,"v":1.06},{"t":33.15,"v":1.04},{"t":33.35,"v":1.05},{"t":33.57,"v":1.03},{"t":33.75,"v":1.06},{"t":33.95,"v":1.05},{"t":34.1,"v":1.08},
    {"t":34.26,"v":1.1},{"t":34.45,"v":1.07},{"t":34.65,"v":1.08},{"t":34.85,"v":1.06},{"t":35.05,"v":1.07},{"t":35.29,"v":1.05},{"t":35.5,"v":1.08},{"t":35.7,"v":1.07},{"t":35.9,"v":1.1},{"t":36.1,"v":1.09},{"t":36.31,"v":1.12}
  ]
},
"columns": 2,
"align": "none",
"bounds": "flush",
"spacing": {"row": 101, "column": 45.5},
"concat": [
  {
    "width": 450, "height": 331,
    "encoding": {
      "x": {"field": "t", "type": "quantitative", "scale": {"domain": [-29.4, 218.3], "nice": false, "zero": false}, "axis": null},
      "y": {"field": "v", "type": "quantitative", "scale": {"domain": [0.5, 2.0], "nice": false, "zero": false},
            "axis": {"values": [0.5, 1.0, 1.5, 2.0], "format": ".1f", "title": "F/F0", "labelFontSize": 21, "titleFontSize": 20, "labelPadding": 12.5, "titlePadding": 5, "domainColor": "#7a7a7a", "tickColor": "#7a7a7a"}}
    },
    "layer": [
      {"data": {"name": "a"}, "mark": {"type": "line", "color": "#111", "strokeWidth": 1.7}, "encoding": {}},
      {"data": {"values": [
        {"t": 5.7, "v": 1.684, "t2": 5.7, "v2": 1.054},
        {"t": 2.4, "v": 1.148, "t2": 5.7, "v2": 1.054},
        {"t": 9.0, "v": 1.148, "t2": 5.7, "v2": 1.054},
        {"t": 142.4, "v": 1.661, "t2": 120.4, "v2": 1.065},
        {"t": 121.3, "v": 1.163, "t2": 120.4, "v2": 1.065},
        {"t": 126.8, "v": 1.148, "t2": 120.4, "v2": 1.065}
      ]}, "mark": {"type": "rule", "color": "#7a7a7a", "strokeWidth": 1}, "encoding": {"x2": {"field": "t2"}, "y2": {"field": "v2"}}},
      {"data": {"values": [{"t": 3.5, "v": 0.74, "t2": 63.5, "v2": 0.74}]}, "mark": {"type": "rule", "color": "#8a8a8a", "strokeWidth": 1.5}, "encoding": {"x2": {"field": "t2"}, "y2": {"field": "v2"}}},
      {"data": {"values": [{"t": -63.3, "v": 2.131, "label": "A"}]}, "mark": {"type": "text", "align": "left", "baseline": "alphabetic", "font": "Liberation Sans", "fontWeight": "bold", "fontSize": 16, "color": "#000"}, "encoding": {"text": {"field": "label"}}},
      {"data": {"values": [{"t": -6.05, "v": 2.136, "label": "IVF"}]}, "mark": {"type": "text", "align": "left", "baseline": "alphabetic", "font": "Open Sans", "fontWeight": "bold", "fontSize": 24, "color": "#000"}, "encoding": {"text": {"field": "label"}}},
      {"data": {"values": [{"t": -18.2, "v": 1.813, "label": "Sperm added"}, {"t": 112.8, "v": 1.737, "label": "Propranolol Added"}]}, "mark": {"type": "text", "align": "left", "baseline": "alphabetic", "font": "Open Sans", "fontSize": 22, "color": "#1a1a1a"}, "encoding": {"text": {"field": "label"}}},
      {"data": {"values": [{"t": 28.6, "v": 0.627, "label": "1 hr"}]}, "mark": {"type": "text", "align": "center", "baseline": "alphabetic", "font": "Liberation Sans", "fontSize": 18, "color": "#1a1a1a"}, "encoding": {"text": {"field": "label"}}}
    ]
  },
  {
    "width": 1, "height": 331,
    "data": {"values": [{"label": ""}]},
    "mark": {"type": "text", "opacity": 0},
    "encoding": {"text": {"field": "label"}}
  },
  {
    "width": 420, "height": 297.5,
    "encoding": {
      "x": {"field": "t", "type": "quantitative", "scale": {"domain": [-38.56, 333.8], "nice": false, "zero": false}, "axis": null},
      "y": {"field": "v", "type": "quantitative", "scale": {"domain": [-0.228, 4.504], "nice": false, "zero": false},
            "axis": {"values": [1, 2, 3, 4], "format": "d", "title": "F/F0", "labelFontSize": 22, "titleFontSize": 22, "labelPadding": 11, "titlePadding": 6, "titleY": 126, "offset": -8.5, "domain": false, "tickColor": "#8a8a8a"}}
    },
    "layer": [
      {"data": {"values": [{"t": -31.03, "v": 0.48, "t2": -31.03, "v2": 4.5}]}, "mark": {"type": "rule", "color": "#8a8a8a", "strokeWidth": 1}, "encoding": {"x2": {"field": "t2"}, "y2": {"field": "v2"}}},
      {"data": {"name": "b"}, "mark": {"type": "line", "color": "#2a2a2a", "strokeWidth": 1.1}, "encoding": {}},
      {"data": {"values": [
        {"t": 207.4, "v": 3.87, "t2": 168.7, "v2": 1.466},
        {"t": 170.2, "v": 1.81, "t2": 168.7, "v2": 1.466},
        {"t": 179.1, "v": 1.65, "t2": 168.7, "v2": 1.466}
      ]}, "mark": {"type": "rule", "color": "#6a6a6a", "strokeWidth": 1}, "encoding": {"x2": {"field": "t2"}, "y2": {"field": "v2"}}},
      {"data": {"values": [
        {"t": 0.9, "v": 0.618, "t2": 60.9, "v2": 0.618},
        {"t": 0.9, "v": 0.74, "t2": 0.9, "v2": 0.5},
        {"t": 60.9, "v": 0.74, "t2": 60.9, "v2": 0.5}
      ]}, "mark": {"type": "rule", "color": "#444", "strokeWidth": 1.2}, "encoding": {"x2": {"field": "t2"}, "y2": {"field": "v2"}}},
      {"data": {"values": [{"t": -91.3, "v": 5.098, "label": "B"}]}, "mark": {"type": "text", "align": "left", "baseline": "alphabetic", "font": "Liberation Sans", "fontWeight": "bold", "fontSize": 16, "color": "#000"}, "encoding": {"text": {"field": "label"}}},
      {"data": {"values": [{"t": -1.15, "v": 5.072, "label": "PLCζ cRNA"}]}, "mark": {"type": "text", "align": "left", "baseline": "alphabetic", "font": "Open Sans", "fontWeight": "bold", "fontSize": 24, "color": "#000"}, "encoding": {"text": {"field": "label"}}},
      {"data": {"values": [{"t": 183.5, "v": 3.98, "label": "Propranolol Added"}]}, "mark": {"type": "text", "align": "left", "baseline": "alphabetic", "font": "Liberation Sans", "fontSize": 20.5, "color": "#1a1a1a"}, "encoding": {"text": {"field": "label"}}},
      {"data": {"values": [{"t": 22.2, "v": 0.246, "label": "1 hr"}]}, "mark": {"type": "text", "align": "center", "baseline": "alphabetic", "font": "Liberation Sans", "fontSize": 22, "color": "#1a1a1a"}, "encoding": {"text": {"field": "label"}}}
    ]
  },
  {
    "width": 419, "height": 297.5,
    "encoding": {
      "x": {"field": "t", "type": "quantitative", "scale": {"domain": [-109.76, 458], "nice": false, "zero": false}, "axis": null},
      "y": {"field": "v", "type": "quantitative", "scale": {"domain": [-0.157, 4.0], "nice": false, "zero": false},
            "axis": {"values": [1, 2, 3, 4], "format": "d", "title": "F/F0", "labelFontSize": 21, "titleFontSize": 21, "labelPadding": 10, "titlePadding": 20, "titleY": 109, "offset": -27, "domain": false, "tickColor": "#9a9a9a"}}
    },
    "layer": [
      {"data": {"values": [{"t": -73.17, "v": 0.5, "t2": -73.17, "v2": 4.0}]}, "mark": {"type": "rule", "color": "#9a9a9a", "strokeWidth": 1}, "encoding": {"x2": {"field": "t2"}, "y2": {"field": "v2"}}},
      {"data": {"name": "c"}, "mark": {"type": "line", "color": "#111", "strokeWidth": 1.2}, "encoding": {}},
      {"data": {"values": [
        {"t": 158.9, "v": 3.61, "t2": 158.9, "v2": 1.85},
        {"t": 152.3, "v": 2.1, "t2": 158.9, "v2": 1.85},
        {"t": 165.5, "v": 2.1, "t2": 158.9, "v2": 1.85},
        {"t": 248, "v": 0.136, "t2": 248, "v2": 1.12},
        {"t": 241.2, "v": 0.84, "t2": 248, "v2": 1.12},
        {"t": 254.8, "v": 0.84, "t2": 248, "v2": 1.12}
      ]}, "mark": {"type": "rule", "color": "#111", "strokeWidth": 1.8}, "encoding": {"x2": {"field": "t2"}, "y2": {"field": "v2"}}},
      {"data": {"values": [
        {"t": 34.8, "v": 0.447, "t2": 94.9, "v2": 0.447},
        {"t": 34.8, "v": 0.55, "t2": 34.8, "v2": 0.35},
        {"t": 94.9, "v": 0.55, "t2": 94.9, "v2": 0.35}
      ]}, "mark": {"type": "rule", "color": "#555", "strokeWidth": 1.2}, "encoding": {"x2": {"field": "t2"}, "y2": {"field": "v2"}}},
      {"data": {"values": [{"t": -166.7, "v": 4.52, "label": "C"}]}, "mark": {"type": "text", "align": "left", "baseline": "alphabetic", "font": "Liberation Sans", "fontWeight": "bold", "fontSize": 16, "color": "#000"}, "encoding": {"text": {"field": "label"}}},
      {"data": {"values": [{"t": -31.2, "v": 4.475, "label": "PLCζ cRNA"}]}, "mark": {"type": "text", "align": "left", "baseline": "alphabetic", "font": "Open Sans", "fontWeight": "bold", "fontSize": 24, "color": "#000"}, "encoding": {"text": {"field": "label"}}},
      {"data": {"values": [{"t": 75.5, "v": 3.82, "label": "Propranolol Added"}, {"t": 147.7, "v": -0.3, "label": "Propranolol Removed"}]}, "mark": {"type": "text", "align": "left", "baseline": "alphabetic", "font": "Liberation Sans", "fontSize": 23, "color": "#1a1a1a"}, "encoding": {"text": {"field": "label"}}},
      {"data": {"values": [{"t": 68.7, "v": 0.098, "label": "1 hr"}]}, "mark": {"type": "text", "align": "center", "baseline": "alphabetic", "font": "Liberation Sans", "fontSize": 22, "color": "#1a1a1a"}, "encoding": {"text": {"field": "label"}}}
    ]
  },
  {
    "width": 393, "height": 299,
    "encoding": {
      "x": {"field": "t", "type": "quantitative", "scale": {"domain": [-0.98, 152.78], "nice": false, "zero": false}, "axis": null},
      "y": {"field": "v", "type": "quantitative", "scale": {"domain": [0.5, 3.5], "nice": false, "zero": false},
            "axis": {"values": [1, 2, 3], "format": "d", "title": "F/F0", "labelFontSize": 16, "titleFontSize": 16, "titleColor": "#1f3864", "labelPadding": 9.7, "titlePadding": 12, "offset": -2.2, "domainColor": "#333", "tickColor": "#333"}}
    },
    "layer": [
      {"data": {"name": "d"}, "mark": {"type": "line", "color": "#222", "strokeWidth": 1}, "encoding": {}},
      {"data": {"values": [
        {"t": 88.5, "v": 0.415, "t2": 77.5, "v2": 1.084},
        {"t": 78.2, "v": 0.866, "t2": 77.5, "v2": 1.084},
        {"t": 82.6, "v": 0.937, "t2": 77.5, "v2": 1.084}
      ]}, "mark": {"type": "rule", "color": "#7a7a7a", "strokeWidth": 1}, "encoding": {"x2": {"field": "t2"}, "y2": {"field": "v2"}}},
      {"data": {"values": [{"t": 38.3, "v": 0.599, "t2": 68.4, "v2": 0.599}]}, "mark": {"type": "rule", "color": "#7a7a7a", "strokeWidth": 1.5}, "encoding": {"x2": {"field": "t2"}, "y2": {"field": "v2"}}},
      {"data": {"values": [{"t": -25, "v": 3.695, "label": "D"}]}, "mark": {"type": "text", "align": "left", "baseline": "alphabetic", "font": "Liberation Sans", "fontWeight": "bold", "fontSize": 16, "color": "#000"}, "encoding": {"text": {"field": "label"}}},
      {"data": {"values": [{"t": 21.5, "v": 3.615, "label": "Sr"}]}, "mark": {"type": "text", "align": "left", "baseline": "alphabetic", "font": "Open Sans", "fontWeight": "bold", "fontSize": 22, "color": "#000"}, "encoding": {"text": {"field": "label"}}},
      {"data": {"values": [{"t": 29.3, "v": 3.705, "label": "2+"}]}, "mark": {"type": "text", "align": "left", "baseline": "alphabetic", "font": "Open Sans", "fontWeight": "bold", "fontSize": 14, "color": "#000"}, "encoding": {"text": {"field": "label"}}},
      {"data": {"values": [{"t": 74.7, "v": 0.002, "label": "Propranolol"}, {"t": 74.7, "v": -0.317, "label": "Added"}]}, "mark": {"type": "text", "align": "left", "baseline": "alphabetic", "font": "Open Sans", "fontSize": 21.5, "color": "#1a1a1a"}, "encoding": {"text": {"field": "label"}}},
      {"data": {"values": [{"t": 54.6, "v": 0.348, "label": "30 mins"}]}, "mark": {"type": "text", "align": "center", "baseline": "alphabetic", "font": "Liberation Sans", "fontSize": 17, "color": "#1a1a1a"}, "encoding": {"text": {"field": "label"}}}
    ]
  },
  {
    "width": 419, "height": 311,
    "encoding": {
      "x": {"field": "t", "type": "quantitative", "scale": {"domain": [-6.68, 36.38], "nice": false, "zero": false}, "axis": null},
      "y": {"field": "v", "type": "quantitative", "scale": {"domain": [0.5, 3.59], "nice": false, "zero": false},
            "axis": {"values": [1, 2, 3], "format": "d", "title": "F/F0", "labelFontSize": 19, "titleFontSize": 21, "labelPadding": 11.7, "titlePadding": 3, "titleY": 174, "domain": false, "tickColor": "#333"}}
    },
    "layer": [
      {"data": {"values": [{"t": -6.68, "v": 0.5, "t2": -6.68, "v2": 3.5}]}, "mark": {"type": "rule", "color": "#333", "strokeWidth": 1}, "encoding": {"x2": {"field": "t2"}, "y2": {"field": "v2"}}},
      {"data": {"name": "e"}, "mark": {"type": "line", "color": "#222", "strokeWidth": 1}, "encoding": {}},
      {"data": {"values": [{"t": -1.37, "v": 0.546, "t2": 8.63, "v2": 0.546}]}, "mark": {"type": "rule", "color": "#9a9a9a", "strokeWidth": 1.5}, "encoding": {"x2": {"field": "t2"}, "y2": {"field": "v2"}}},
      {"data": {"values": [{"t": -11.13, "v": 3.78, "label": "E"}]}, "mark": {"type": "text", "align": "left", "baseline": "alphabetic", "font": "Liberation Sans", "fontWeight": "bold", "fontSize": 16, "color": "#000"}, "encoding": {"text": {"field": "label"}}},
      {"data": {"values": [{"t": -1.54, "v": 3.71, "label": "Adenophostin"}]}, "mark": {"type": "text", "align": "left", "baseline": "alphabetic", "font": "Open Sans", "fontWeight": "bold", "fontSize": 24, "color": "#000"}, "encoding": {"text": {"field": "label"}}},
      {"data": {"values": [{"t": 3.34, "v": 0.28, "label": "10 mins"}]}, "mark": {"type": "text", "align": "center", "baseline": "alphabetic", "font": "Liberation Sans", "fontSize": 17, "color": "#1a1a1a"}, "encoding": {"text": {"field": "label"}}}
    ]
  }
]
}
